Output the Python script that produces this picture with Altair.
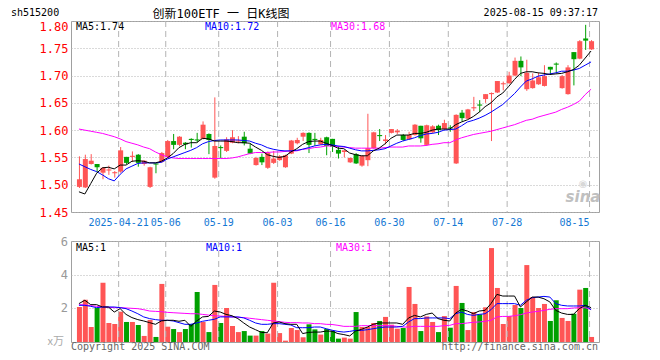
import altair as alt
import pandas as pd

DATES = [
    "04-10", "04-11", "04-14", "04-15", "04-16", "04-17", "04-18", "04-21", "04-22", "04-23",
    "04-24", "04-25", "04-28", "04-29", "04-30", "05-06", "05-07", "05-08", "05-09", "05-12",
    "05-13", "05-14", "05-15", "05-16", "05-19", "05-20", "05-21", "05-22", "05-23", "05-26",
    "05-27", "05-28", "05-29", "05-30", "06-03", "06-04", "06-05", "06-06", "06-09", "06-10",
    "06-11", "06-12", "06-13", "06-16", "06-17", "06-18", "06-19", "06-20", "06-23", "06-24",
    "06-25", "06-26", "06-27", "06-30", "07-01", "07-02", "07-03", "07-04", "07-07", "07-08",
    "07-09", "07-10", "07-11", "07-14", "07-15", "07-16", "07-17", "07-18", "07-21", "07-22",
    "07-23", "07-24", "07-25", "07-28", "07-29", "07-30", "07-31", "08-01", "08-04", "08-05",
    "08-06", "08-07", "08-08", "08-11", "08-12", "08-13", "08-14", "08-15",
]

OPEN = [1.496, 1.495, 1.538, 1.538, 1.522, 1.526, 1.521, 1.524, 1.551, 1.551,
        1.555, 1.538, 1.496, 1.539, 1.542, 1.551, 1.580, 1.573, 1.577, 1.584,
        1.583, 1.584, 1.593, 1.513, 1.569, 1.562, 1.577, 1.579, 1.588, 1.566,
        1.536, 1.551, 1.531, 1.540, 1.545, 1.532, 1.557, 1.576, 1.588, 1.595,
        1.584, 1.574, 1.587, 1.584, 1.564, 1.560, 1.541, 1.556, 1.535, 1.545,
        1.567, 1.591, 1.580, 1.595, 1.596, 1.591, 1.583, 1.591, 1.608, 1.573,
        1.596, 1.608, 1.602, 1.605, 1.539, 1.632, 1.621, 1.640, 1.647, 1.657,
        1.666, 1.669, 1.684, 1.686, 1.700, 1.727, 1.675, 1.677, 1.684, 1.681,
        1.716, 1.722, 1.677, 1.666, 1.743, 1.731, 1.768, 1.748]
CLOSE = [1.510, 1.547, 1.544, 1.532, 1.531, 1.528, 1.523, 1.563, 1.540, 1.553,
         1.540, 1.544, 1.532, 1.537, 1.558, 1.580, 1.573, 1.588, 1.574, 1.582,
         1.581, 1.610, 1.582, 1.571, 1.567, 1.583, 1.587, 1.581, 1.576, 1.557,
         1.549, 1.541, 1.558, 1.548, 1.552, 1.554, 1.581, 1.582, 1.595, 1.573,
         1.582, 1.582, 1.571, 1.570, 1.557, 1.563, 1.549, 1.539, 1.553, 1.567,
         1.596, 1.589, 1.583, 1.602, 1.599, 1.582, 1.591, 1.610, 1.585, 1.609,
         1.607, 1.600, 1.613, 1.603, 1.628, 1.622, 1.638, 1.642, 1.645, 1.666,
         1.668, 1.690, 1.686, 1.700, 1.727, 1.715, 1.705, 1.691, 1.697, 1.699,
         1.711, 1.720, 1.699, 1.715, 1.730, 1.763, 1.764, 1.763]
HIGH = [1.552, 1.555, 1.556, 1.538, 1.532, 1.535, 1.525, 1.569, 1.551, 1.561,
        1.556, 1.545, 1.533, 1.539, 1.560, 1.582, 1.593, 1.589, 1.578, 1.585,
        1.595, 1.616, 1.594, 1.660, 1.572, 1.587, 1.600, 1.589, 1.597, 1.576,
        1.551, 1.557, 1.561, 1.562, 1.554, 1.555, 1.582, 1.586, 1.596, 1.596,
        1.595, 1.586, 1.588, 1.584, 1.570, 1.563, 1.550, 1.558, 1.554, 1.630,
        1.597, 1.602, 1.591, 1.602, 1.602, 1.593, 1.597, 1.611, 1.608, 1.610,
        1.609, 1.610, 1.619, 1.609, 1.629, 1.637, 1.639, 1.661, 1.655, 1.666,
        1.669, 1.690, 1.689, 1.707, 1.733, 1.735, 1.729, 1.704, 1.705, 1.719,
        1.716, 1.724, 1.701, 1.719, 1.743, 1.765, 1.793, 1.765]
LOW = [1.494, 1.494, 1.537, 1.522, 1.510, 1.518, 1.513, 1.522, 1.538, 1.542,
       1.533, 1.535, 1.494, 1.521, 1.540, 1.550, 1.565, 1.571, 1.565, 1.568,
       1.577, 1.583, 1.556, 1.511, 1.549, 1.560, 1.576, 1.576, 1.572, 1.556,
       1.535, 1.536, 1.529, 1.538, 1.544, 1.531, 1.556, 1.574, 1.580, 1.558,
       1.571, 1.573, 1.554, 1.560, 1.548, 1.550, 1.540, 1.538, 1.533, 1.534,
       1.566, 1.580, 1.574, 1.594, 1.593, 1.580, 1.582, 1.590, 1.577, 1.571,
       1.595, 1.591, 1.601, 1.597, 1.538, 1.616, 1.620, 1.635, 1.633, 1.650,
       1.580, 1.668, 1.673, 1.685, 1.699, 1.699, 1.672, 1.676, 1.683, 1.680,
       1.702, 1.704, 1.676, 1.665, 1.682, 1.730, 1.747, 1.747]

MA5 = [1.487, 1.483, 1.502, 1.521, 1.531, 1.532, 1.529, 1.536, 1.536, 1.543,
       1.544, 1.543, 1.540, 1.540, 1.543, 1.549, 1.557, 1.568, 1.574, 1.577,
       1.577, 1.585, 1.584, 1.580, 1.580, 1.580, 1.579, 1.577, 1.577, 1.576,
       1.569, 1.563, 1.555, 1.552, 1.550, 1.552, 1.560, 1.566, 1.574, 1.579,
       1.580, 1.580, 1.576, 1.572, 1.567, 1.566, 1.558, 1.555, 1.553, 1.553,
       1.562, 1.567, 1.575, 1.585, 1.591, 1.591, 1.591, 1.594, 1.594, 1.596,
       1.600, 1.602, 1.602, 1.602, 1.610, 1.615, 1.619, 1.625, 1.633, 1.643,
       1.650, 1.661, 1.668, 1.680, 1.693, 1.704, 1.707, 1.707, 1.705, 1.704,
       1.702, 1.703, 1.704, 1.707, 1.711, 1.719, 1.732, 1.745]
MA10 = [1.538, 1.533, 1.528, 1.524, 1.518, 1.511, 1.507, 1.519, 1.529, 1.534,
        1.539, 1.540, 1.540, 1.540, 1.541, 1.547, 1.551, 1.555, 1.559, 1.563,
        1.568, 1.575, 1.579, 1.581, 1.582, 1.582, 1.582, 1.582, 1.581, 1.580,
        1.576, 1.573, 1.568, 1.565, 1.563, 1.562, 1.562, 1.563, 1.565, 1.568,
        1.571, 1.573, 1.574, 1.573, 1.571, 1.570, 1.567, 1.564, 1.562, 1.562,
        1.563, 1.564, 1.566, 1.571, 1.576, 1.580, 1.583, 1.586, 1.590, 1.593,
        1.594, 1.596, 1.600, 1.601, 1.602, 1.608, 1.615, 1.618, 1.622, 1.627,
        1.633, 1.640, 1.647, 1.657, 1.667, 1.679, 1.690, 1.694, 1.699, 1.701,
        1.703, 1.705, 1.708, 1.708, 1.710, 1.713, 1.719, 1.725]
MA30 = [1.602, 1.600, 1.598, 1.596, 1.594, 1.591, 1.588, 1.584, 1.579, 1.576,
        1.573, 1.569, 1.566, 1.560, 1.555, 1.551, 1.549, 1.548, 1.548, 1.548,
        1.548, 1.548, 1.548, 1.548, 1.548, 1.548, 1.549, 1.551, 1.554, 1.557,
        1.559, 1.559, 1.559, 1.560, 1.560, 1.561, 1.562, 1.562, 1.565, 1.566,
        1.568, 1.569, 1.571, 1.571, 1.570, 1.569, 1.568, 1.567, 1.567, 1.567,
        1.567, 1.567, 1.568, 1.569, 1.569, 1.569, 1.571, 1.571, 1.571, 1.572,
        1.574, 1.575, 1.577, 1.577, 1.582, 1.586, 1.589, 1.592, 1.594, 1.596,
        1.598, 1.601, 1.604, 1.607, 1.610, 1.614, 1.618, 1.620, 1.624, 1.627,
        1.630, 1.633, 1.638, 1.642, 1.647, 1.653, 1.665, 1.675]

VOL = [2.08, 2.51, 0.89, 2.02, 3.52, 1.13, 1.07, 1.80, 1.19, 1.19,
       1.01, 0.36, 1.31, 0.30, 3.45, 0.91, 0.77, 0.59, 0.77, 1.07,
       2.97, 1.19, 0.59, 3.39, 1.13, 2.02, 0.95, 0.59, 0.65, 0.38,
       0.38, 0.65, 0.50, 3.52, 0.53, 0.08, 0.83, 0.71, 0.28, 1.05,
       0.75, 0.44, 0.77, 0.66, 0.20, 0.26, 0.20, 1.78, 0.89, 0.89,
       1.13, 1.25, 1.49, 1.03, 0.79, 0.83, 3.27, 2.26, 0.65, 1.52,
       1.19, 0.59, 1.54, 0.85, 3.33, 2.32, 0.71, 1.78, 1.64, 2.06,
       5.58, 3.21, 1.07, 1.54, 2.20, 2.02, 4.57, 2.67, 2.02, 2.26,
       1.25, 2.48, 1.43, 1.25, 1.68, 3.11, 3.21, 0.30]
VMA5 = [2.28, 2.48, 2.22, 2.22, 2.08, 2.08, 1.78, 1.98, 1.64, 1.45,
        1.33, 1.25, 1.15, 1.05, 1.25, 1.29, 1.29, 1.23, 1.29, 0.93,
        1.25, 1.49, 1.52, 1.84, 1.78, 1.64, 1.56, 1.39, 1.13, 0.89,
        0.73, 0.57, 0.55, 1.13, 1.19, 1.09, 1.05, 1.05, 0.50, 0.57,
        0.59, 0.59, 0.65, 0.64, 0.50, 0.44, 0.36, 0.65, 0.75, 0.89,
        1.05, 1.13, 1.13, 1.13, 1.13, 1.05, 1.43, 1.58, 1.49, 1.64,
        1.72, 1.39, 1.29, 1.25, 1.72, 1.94, 1.84, 1.68, 1.84, 1.88,
        2.28, 2.83, 2.73, 2.73, 2.73, 2.08, 2.38, 2.67, 2.67, 2.57,
        2.38, 1.88, 1.72, 1.64, 1.64, 1.98, 2.18, 2.04]
VMA10 = [2.18, 2.18, 2.12, 2.04, 2.08, 2.08, 2.08, 2.04, 1.98, 1.84,
         1.68, 1.49, 1.39, 1.33, 1.29, 1.29, 1.25, 1.15, 1.05, 1.05,
         1.13, 1.23, 1.29, 1.35, 1.49, 1.49, 1.49, 1.49, 1.43, 1.29,
         1.13, 1.05, 1.05, 1.09, 1.09, 1.05, 1.01, 0.85, 0.85, 0.85,
         0.89, 0.89, 0.79, 0.70, 0.63, 0.59, 0.63, 0.69, 0.69, 0.73,
         0.79, 0.85, 0.89, 0.89, 0.89, 0.93, 1.19, 1.39, 1.39, 1.43,
         1.43, 1.43, 1.43, 1.39, 1.68, 1.78, 1.64, 1.58, 1.64, 1.68,
         1.92, 2.28, 2.28, 2.28, 2.28, 2.18, 2.48, 2.63, 2.67, 2.71,
         2.67, 2.28, 2.18, 2.14, 2.14, 2.14, 2.18, 1.92]
VMA30 = [2.22, 2.20, 2.16, 2.12, 2.08, 2.06, 2.04, 2.04, 2.02, 2.00,
         1.98, 1.92, 1.84, 1.82, 1.80, 1.76, 1.74, 1.72, 1.70, 1.68,
         1.68, 1.64, 1.60, 1.56, 1.54, 1.52, 1.49, 1.47, 1.45, 1.41,
         1.37, 1.33, 1.29, 1.25, 1.21, 1.17, 1.15, 1.15, 1.13, 1.13,
         1.09, 1.09, 1.05, 1.04, 0.99, 0.93, 0.93, 0.93, 0.97, 0.97,
         0.97, 0.97, 0.97, 0.97, 0.93, 0.89, 0.89, 0.93, 0.93, 0.93,
         0.93, 0.93, 0.97, 0.99, 1.09, 1.09, 1.13, 1.17, 1.19, 1.23,
         1.29, 1.49, 1.52, 1.52, 1.56, 1.62, 1.72, 1.78, 1.82, 1.88,
         1.94, 1.98, 1.98, 1.98, 2.02, 2.04, 2.04, 1.92]

TICK_IDX = [7, 15, 24, 34, 43, 53, 63, 73, 87]
TICK_LABELS = ["2025-04-21", "05-06", "05-19", "06-03", "06-16", "06-30", "07-14", "07-28", "08-15"]
PRICE_TICKS = [1.45, 1.50, 1.55, 1.60, 1.65, 1.70, 1.75, 1.80]
VOL_TICKS = [2, 4, 6]

RED = "#ff5555"
GREEN = "#00a000"
BLUE = "#0000ff"
MAGENTA = "#ff00ff"
GRID = "#b4b4b4"
DATE_BLUE = "#1478d4"
MONO = "DejaVu Sans Mono"
CJK = "DejaVu Sans Mono, Noto Sans CJK SC"
W, HP, HV = 528, 191, 101

df = pd.DataFrame({
    "i": list(range(len(DATES))), "date": DATES,
    "open": OPEN, "close": CLOSE, "high": HIGH, "low": LOW,
    "ma5": MA5, "ma10": MA10, "ma30": MA30,
    "vol": VOL, "vma5": VMA5, "vma10": VMA10, "vma30": VMA30,
})
df["dir"] = ["up" if c >= o else "down" for o, c in zip(OPEN, CLOSE)]
ticks = pd.DataFrame({"i": TICK_IDX, "label": TICK_LABELS})
vticks = pd.DataFrame({"v": VOL_TICKS[:-1], "t": [str(v) for v in VOL_TICKS[:-1]]})

xenc = alt.X("i:Q", scale=alt.Scale(domain=[-0.5, len(DATES) - 0.5], nice=False, zero=False), axis=None)
cenc = alt.Color("dir:N", scale=alt.Scale(domain=["up", "down"], range=[RED, GREEN]), legend=None)

pscale = alt.Scale(domain=[1.45, 1.80], nice=False, zero=False)
paxis = alt.Axis(values=PRICE_TICKS, format=".2f", labelColor="#ff0000", labelFont=MONO,
                 labelFontSize=12, grid=True, gridDash=[1, 2], gridColor=GRID, ticks=False,
                 domain=False, labelPadding=3, title=None, labelFlush=False, labelOverlap=False,
                 labelOffset={"condition": {"test": "datum.value > 1.79", "value": 5}, "value": 0})
vscale = alt.Scale(domain=[0, 6], nice=False, zero=True)
vaxis = alt.Axis(values=VOL_TICKS, grid=True, gridDash=[1, 2], gridColor=GRID, ticks=False,
                 domain=False, labels=False, title=None)


def py(field):
    return alt.Y(field, scale=pscale, axis=paxis, title=None)


def vy(field):
    return alt.Y(field, scale=vscale, axis=vaxis, title=None)


def label(txt, x, y, color="black", size=10, align="left", font=MONO, **kw):
    return alt.Chart(pd.DataFrame({"t": [txt]})).mark_text(
        align=align, baseline="middle", color=color, font=font, fontSize=size, x=x, y=y, **kw
    ).encode(text="t:N")


vgrid = alt.Chart(ticks).mark_rule(color=GRID, strokeDash=[6, 4], strokeWidth=1, xOffset=-1.5).encode(x=xenc)

base = alt.Chart(df)
wicks = base.mark_rule(strokeWidth=1, xOffset=0.5).encode(
    x=xenc, y=py("low:Q"), y2="high:Q", color=cenc)
bodies = base.mark_bar(size=5, xOffset=0.5).encode(
    x=xenc, y=py("open:Q"), y2="close:Q", color=cenc)
ma5 = base.mark_line(color="black", strokeWidth=1).encode(x=xenc, y=py("ma5:Q"))
ma10 = base.mark_line(color=BLUE, strokeWidth=1).encode(x=xenc, y=py("ma10:Q"))
ma30 = base.mark_line(color=MAGENTA, strokeWidth=1).encode(x=xenc, y=py("ma30:Q"))

date_mid = alt.Chart(ticks.iloc[:-1]).mark_text(
    align="center", baseline="middle", color=DATE_BLUE, font=MONO, fontSize=10, y=HP + 11, xOffset=-1.5
).encode(x=xenc, text="label:N")
date_last = alt.Chart(ticks.iloc[-1:]).mark_text(
    align="right", baseline="middle", color=DATE_BLUE, font=MONO, fontSize=10, y=HP + 11, xOffset=-1.5
).encode(x=xenc, text="label:N")

price = alt.layer(
    wicks, vgrid, bodies, ma30, ma10, ma5, date_mid, date_last,
    label("MA5:1.74", 5, 6),
    label("MA10:1.72", 134, 6, color=BLUE),
    label("MA30:1.68", 260, 6, color=MAGENTA),
    label("sh515200", -60, -8),
    label("创新100ETF 一 日K线图", 150, -7, size=12, align="center", font=CJK),
    label("2025-08-15 09:37:17", 527, -8, align="right"),
    label("sina", 512, 176, color="#c0c0c0", size=15, align="center", font="DejaVu Sans",
          fontStyle="italic", fontWeight="bold"),
    label("◉", 512, 163, color="#d8d8d8", size=10, align="center", font="DejaVu Sans"),
).properties(width=W, height=HP)

vbars = base.mark_bar(size=5, xOffset=0.5).encode(
    x=xenc, y=vy("vol:Q"), color=cenc)
vma5 = base.mark_line(color="black", strokeWidth=1).encode(x=xenc, y=vy("vma5:Q"))
vma10 = base.mark_line(color=BLUE, strokeWidth=1).encode(x=xenc, y=vy("vma10:Q"))
vma30 = base.mark_line(color=MAGENTA, strokeWidth=1).encode(x=xenc, y=vy("vma30:Q"))
vlabels = alt.Chart(vticks).mark_text(
    align="right", baseline="middle", color="#999999", font=MONO, fontSize=12, x=-3
).encode(y=vy("v:Q"), text="t:N")

volume = alt.layer(
    vbars, vgrid, vma30, vma10, vma5, vlabels,
    label("MA5:1", 5, 7),
    label("MA10:1", 135, 7, color=BLUE),
    label("MA30:1", 265, 7, color=MAGENTA),
    label(str(VOL_TICKS[-1]), -3, 1, color="#999999", size=12, align="right"),
    label("x万", -7, HV, color="#aaaaaa", size=11, align="right", font="Noto Sans CJK SC"),
    label("Copyright 2025 SINA.COM", 0, HV + 5, color="#666666"),
    label("http://finance.sina.com.cn", 527, HV + 5, color="#666666", align="right"),
).properties(width=W, height=HV)

chart = alt.vconcat(price, volume, spacing=29, bounds="flush").properties(
    padding={"left": 2, "top": -1, "right": 5, "bottom": 2},
    background="white",
).configure_view(stroke="#a0a0a0", strokeWidth=1)

chart.save("out.html", embed_options={"renderer": "svg", "actions": False})
